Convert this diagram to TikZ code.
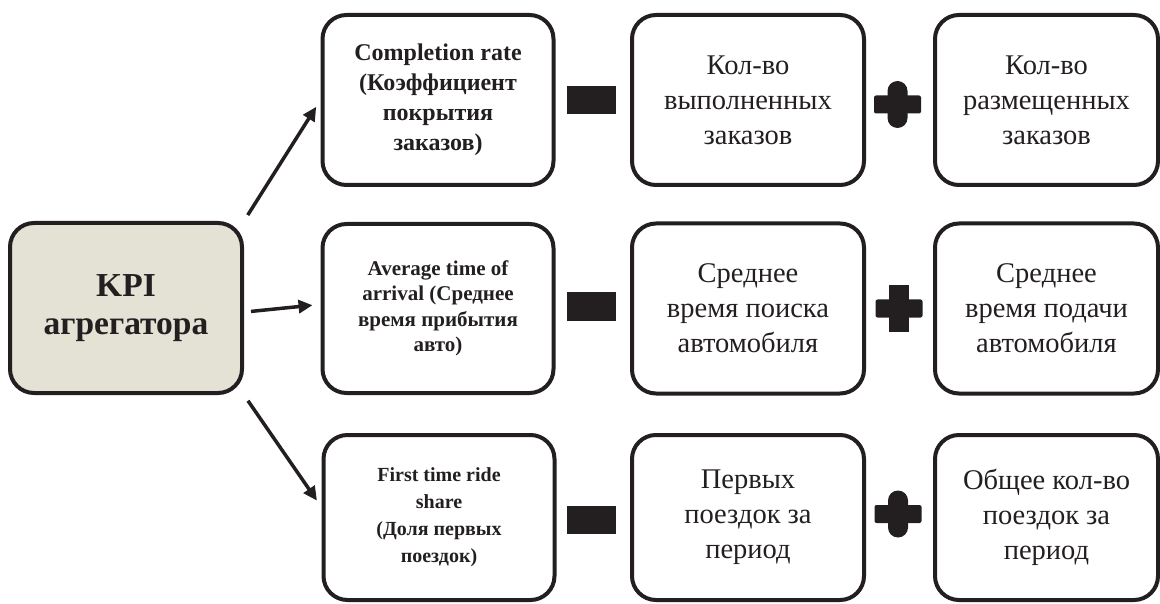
\documentclass[tikz,border=0pt]{standalone}
\usepackage{fontspec}
\setmainfont{Liberation Serif}
\usetikzlibrary{arrows.meta}
\definecolor{ink}{RGB}{35,31,32}
\definecolor{kpifill}{RGB}{228,225,213}

\begin{document}
\begin{tikzpicture}
			[x=1pt,y=-1pt,line join=round,
			every node/.style={draw=ink,line width=4pt,rounded corners=24pt,align=center,text=ink,inner sep=0pt},
			kpibox/.style={fill=kpifill,minimum width=232pt,minimum height=170pt,font=\fontsize{33.5}{38}\selectfont\bfseries},
			namebox/.style={minimum width=231pt,font=\bfseries},
			termbox/.style={minimum height=170pt,font=\fontsize{28.5}{35}\selectfont},
			minus/.style={draw=none,fill=ink,rounded corners=0pt,minimum width=49pt,minimum height=28pt},
			link/.style={draw=ink,line width=3.5pt,-{Triangle[length=14pt,width=13pt]},shorten <=7pt,shorten >=8pt}]
			\useasboundingbox (0,0) rectangle (1160,604);
			
			\node[kpibox] (kpi) at (126,308) {KPI\\агрегатора};
			
			\node[namebox,minimum height=170pt,font=\fontsize{24}{30}\selectfont\bfseries] (c1r1) at (438,100) {Completion rate\\(Коэффициент\\покрытия\\заказов)};
			\node[namebox,minimum height=169pt,font=\fontsize{21}{25.5}\selectfont\bfseries] (c1r2) at (438,308.5) {Average time of\\arrival (Среднее\\время прибытия\\авто)};
			\node[namebox,minimum height=165pt,font=\fontsize{20}{27}\selectfont\bfseries] (c1r3) at (439,517.5) {First time ride\\share\\(Доля первых\\поездок)};
			
			\node[termbox,minimum width=232pt] (c2r1) at (748,100) {Кол-во\\выполненных\\заказов};
			\node[termbox,minimum width=232pt] (c2r2) at (748,308.5) {Среднее\\время поиска\\автомобиля};
			\node[termbox,minimum width=232pt,minimum height=165pt] (c2r3) at (748,517.5) {Первых\\поездок за\\период};
			
			\node[termbox,minimum width=223pt] (c3r1) at (1046.5,100) {Кол-во\\размещенных\\заказов};
			\node[termbox,minimum width=223pt] (c3r2) at (1046.5,308.5) {Среднее\\время подачи\\автомобиля};
			\node[termbox,minimum width=223pt,minimum height=165pt] (c3r3) at (1046.5,517.5) {Общее кол-во\\поездок за\\период};
			
			\node[minus] (m1) at (591,100.5) {};
			\node[minus] (m2) at (591.5,306.5) {};
			\node[minus] (m3) at (591.5,519.5) {};
			
			\coordinate (p1) at (897.5,104.5);
			\coordinate (p2) at (899,308.5);
			\coordinate (p3) at (898,514);
			
			% plus signs, rows 1 and 3 with round ends
			\foreach \p/\r in {p1/10pt,p2/0pt,p3/10pt}
			{
			\fill[ink,rounded corners=2pt] ([shift={(-23.5,-9)}]\p) rectangle ([shift={(23.5,9)}]\p);
			\fill[ink,rounded corners=\r] ([shift={(-10,-23.5)}]\p) rectangle ([shift={(10,23.5)}]\p);
			}
			
			\foreach \from/\to in {kpi.north east/c1r1.west,kpi.-2/c1r2.178,kpi.south east/c1r3.175}
			\draw[link] (\from) -- (\to);
\end{tikzpicture}
\end{document}
